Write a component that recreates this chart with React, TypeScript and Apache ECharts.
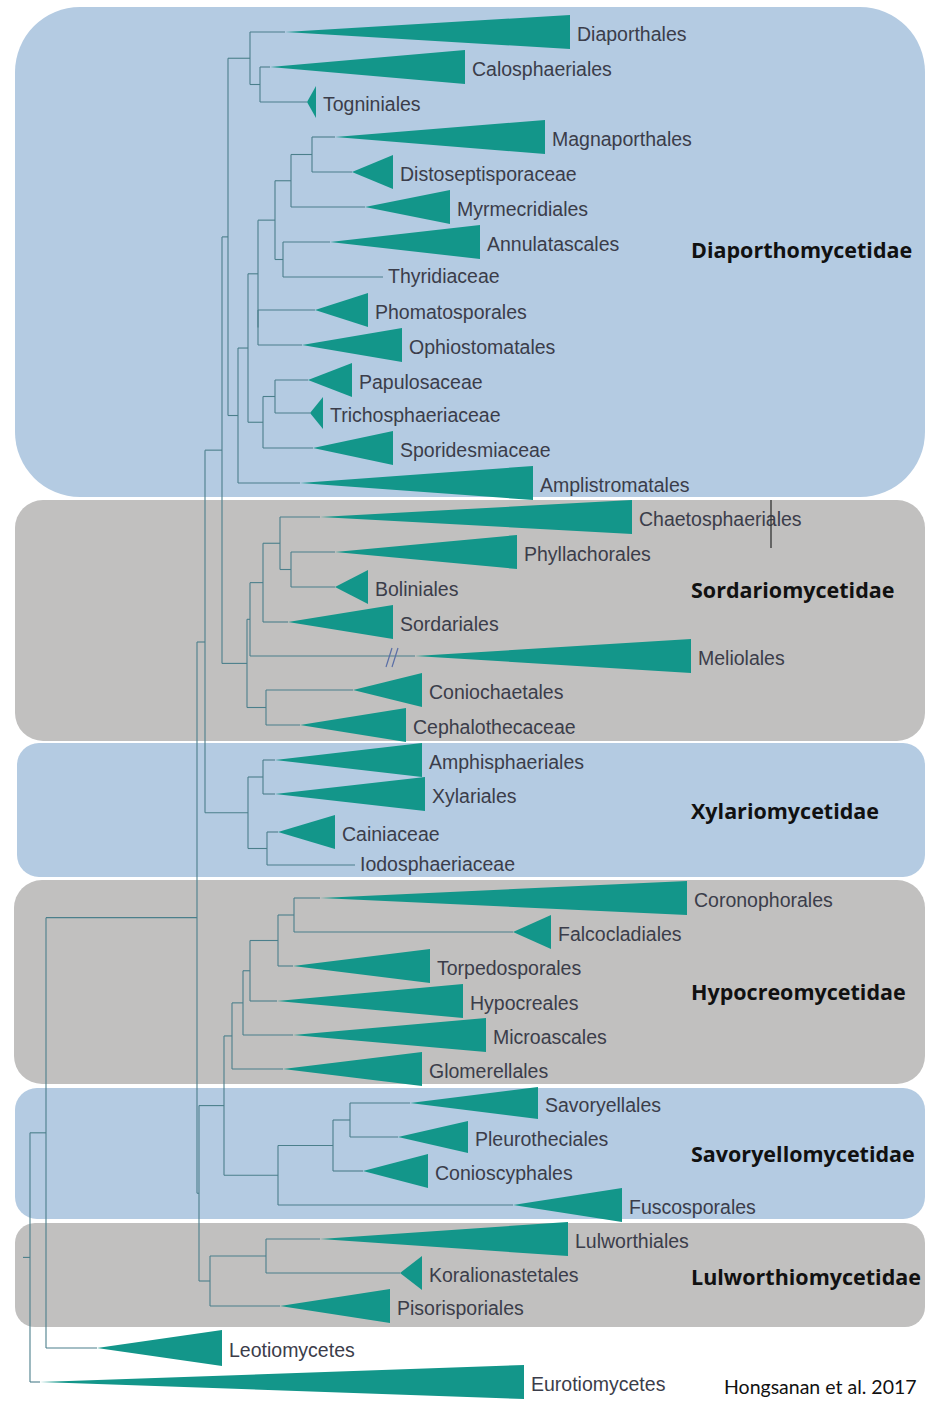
import React, { useEffect, useRef } from "react";
import * as echarts from "echarts";

// ---------- DATA ----------
const taxa = [
  "Diaporthales", "Calosphaeriales", "Togniniales", "Magnaporthales", "Distoseptisporaceae",
  "Myrmecridiales", "Annulatascales", "Thyridiaceae", "Phomatosporales", "Ophiostomatales",
  "Papulosaceae", "Trichosphaeriaceae", "Sporidesmiaceae", "Amplistromatales",
  "Chaetosphaeriales", "Phyllachorales", "Boliniales", "Sordariales", "Meliolales",
  "Coniochaetales", "Cephalothecaceae",
  "Amphisphaeriales", "Xylariales", "Cainiaceae", "Iodosphaeriaceae",
  "Coronophorales", "Falcocladiales", "Torpedosporales", "Hypocreales", "Microascales", "Glomerellales",
  "Savoryellales", "Pleurotheciales", "Conioscyphales", "Fuscosporales",
  "Lulworthiales", "Koralionastetales", "Pisorisporiales",
  "Leotiomycetes", "Eurotiomycetes",
];
// vertical position (row) of each collapsed clade
const taxonRow = [
  32, 67, 102, 137, 172, 207, 242, 277, 310, 345, 380, 413, 448, 483,
  517, 552, 587, 622, 656, 690, 725,
  760, 794, 832, 865,
  898, 932, 966, 1001, 1035, 1069,
  1103, 1137, 1171, 1205,
  1239, 1273, 1306,
  1348, 1382,
];
// depth where the collapsed clade begins (triangle apex)
const cladeStart = [
  285, 270, 307, 335, 352, 365, 330, 383, 315, 302, 308, 310, 313, 300,
  320, 335, 335, 288, 415, 353, 300,
  275, 275, 278, 355,
  320, 513, 293, 277, 293, 283,
  410, 398, 363, 513,
  320, 400, 280,
  97, 40,
];
// deepest tip inside the clade (triangle base)
const cladeEnd = [
  570, 465, 316, 545, 393, 450, 480, 383, 368, 402, 352, 323, 393, 533,
  632, 517, 368, 393, 691, 422, 406,
  422, 425, 335, 355,
  687, 551, 430, 463, 486, 422,
  538, 468, 428, 622,
  568, 422, 390,
  222, 524,
];
// half-width of the clade (number of sampled taxa)
const cladeSpread = [
  17, 17, 16, 17, 17, 17, 17, 0, 17, 17, 17, 16, 17, 17,
  17, 17, 17, 17, 17, 17, 17,
  17, 17, 17, 0,
  17, 17, 17, 17, 17, 17,
  16, 16, 17, 17,
  17, 17, 17,
  18, 17,
];

// internal nodes of the tree
const nodeNames = [
  "A", "AC", "B4", "B2", "B3", "B1", "PO", "B", "PT", "C", "D", "E", "F",
  "Sd", "Sc", "Sb", "Sa", "CC", "S", "G",
  "Xa", "Xb", "X", "H",
  "CF", "H1", "H2", "H3", "Hy",
  "SP", "SP2", "Sv", "M",
  "LK", "Lu", "L", "I", "J", "K",
];
const nodeDepth = [
  250, 260, 312, 291, 283, 275, 258, 258, 275, 263, 248, 238, 228,
  291, 280, 263, 250, 266, 247, 222,
  263, 267, 248, 205,
  294, 278, 250, 243, 232,
  350, 333, 278, 224,
  266, 210, 199, 197, 46, 30,
];
const nodeChildren = [
  ["Diaporthales", "AC"], ["Calosphaeriales", "Togniniales"],
  ["Magnaporthales", "Distoseptisporaceae"], ["B4", "Myrmecridiales"],
  ["Annulatascales", "Thyridiaceae"], ["B2", "B3"],
  ["Phomatosporales", "Ophiostomatales"], ["B1", "PO"],
  ["Papulosaceae", "Trichosphaeriaceae"], ["PT", "Sporidesmiaceae"],
  ["B", "C"], ["D", "Amplistromatales"], ["A", "E"],
  ["Phyllachorales", "Boliniales"], ["Chaetosphaeriales", "Sd"], ["Sc", "Sordariales"],
  ["Sb", "Meliolales"], ["Coniochaetales", "Cephalothecaceae"], ["Sa", "CC"], ["F", "S"],
  ["Amphisphaeriales", "Xylariales"], ["Cainiaceae", "Iodosphaeriaceae"], ["Xa", "Xb"], ["G", "X"],
  ["Coronophorales", "Falcocladiales"], ["CF", "Torpedosporales"], ["H1", "Hypocreales"],
  ["H2", "Microascales"], ["H3", "Glomerellales"],
  ["Savoryellales", "Pleurotheciales"], ["SP", "Conioscyphales"], ["SP2", "Fuscosporales"], ["Hy", "Sv"],
  ["Lulworthiales", "Koralionastetales"], ["LK", "Pisorisporiales"], ["M", "Lu"],
  ["H", "L"], ["I", "Leotiomycetes"], ["J", "Eurotiomycetes"],
];
const nodeRowOverride: Record<string, number> = { H: 642 };
const rootDepth = 23;

const subclasses = [
  "Diaporthomycetidae", "Sordariomycetidae", "Xylariomycetidae",
  "Hypocreomycetidae", "Savoryellomycetidae", "Lulworthiomycetidae",
];
const subclassTop = [7, 500, 743, 880, 1088, 1223];
const subclassBottom = [497, 741, 877, 1084, 1219, 1327];
const subclassLabelRow = [250, 590, 811, 992, 1154, 1277];

const breakMarks = [[392, 657]];
const cursorMarks = [[771, 500, 548]];
const citation = "Hongsanan et al. 2017";

// ---------- TREE LAYOUT ----------
function buildSegments(): number[][] {
  const rowOf: Record<string, number> = {};
  const startOf: Record<string, number> = {};
  taxa.forEach((t, i) => {
    rowOf[t] = taxonRow[i];
    startOf[t] = cladeStart[i];
  });
  const idx: Record<string, number> = {};
  nodeNames.forEach((n, i) => (idx[n] = i));
  const getRow = (n: string): number => {
    if (rowOf[n] !== undefined) return rowOf[n];
    const i = idx[n];
    const rs = nodeChildren[i].map(getRow);
    const r = nodeRowOverride[n] !== undefined ? nodeRowOverride[n] : (Math.min(...rs) + Math.max(...rs)) / 2;
    rowOf[n] = r;
    startOf[n] = nodeDepth[i];
    return r;
  };
  nodeNames.forEach(getRow);
  const segs: number[][] = [];
  nodeNames.forEach((n, i) => {
    const d = nodeDepth[i];
    const rs = nodeChildren[i].map((c) => rowOf[c]);
    segs.push([d, Math.min(...rs), d, Math.max(...rs)]);
    nodeChildren[i].forEach((c) => segs.push([d, rowOf[c], startOf[c], rowOf[c]]));
  });
  segs.push([rootDepth, rowOf["K"], nodeDepth[idx["K"]], rowOf["K"]]);
  return segs;
}

const BLUE = "#b4cbe2";
const GRAY = "#c1c0bf";
const TEAL = "#13968a";
const LINE = "#4b7f8b";
const LABEL = "#3b3d4a";
const BOX_RADIUS = [65, 28, 22, 28, 22, 20];

export default function App() {
  const ref = useRef<HTMLDivElement>(null);

  useEffect(() => {
    document.body.style.margin = "0";
    if (!ref.current) return;
    const chart = echarts.init(ref.current, undefined, { renderer: "svg" });
    const segs = buildSegments();

    const option: any = {
      animation: false,
      backgroundColor: "#ffffff",
      grid: { left: 0, right: 0, top: 0, bottom: 0, containLabel: false },
      xAxis: { type: "value", min: 0, max: 927, show: false },
      yAxis: { type: "value", min: 0, max: 1401, inverse: true, show: false },
      series: [
        {
          type: "custom",
          name: "subclass boxes",
          silent: true,
          clip: false,
          z: 1,
          data: subclasses.map((s, i) => [subclassTop[i], subclassBottom[i], subclassLabelRow[i], i]),
          renderItem: (params: any, api: any) => {
            const i = api.value(3);
            const p0 = api.coord([i === 3 ? 14 : i === 2 ? 17 : 15, api.value(0)]);
            const p1 = api.coord([925, api.value(1)]);
            const pl = api.coord([691, api.value(2)]);
            return {
              type: "group",
              children: [
                {
                  type: "rect",
                  shape: { x: p0[0], y: p0[1], width: p1[0] - p0[0], height: p1[1] - p0[1], r: BOX_RADIUS[i] },
                  style: { fill: i % 2 === 0 ? BLUE : GRAY },
                },
                {
                  type: "text",
                  style: {
                    text: subclasses[i],
                    x: pl[0],
                    y: pl[1] - 1,
                    fill: "#111111",
                    fontSize: 21.5,
                    fontWeight: "bold",
                    fontFamily: "'Open Sans', Lato, sans-serif",
                    align: "left",
                    verticalAlign: "middle",
                  },
                },
              ],
            };
          },
        },
        {
          type: "custom",
          name: "branches",
          silent: true,
          clip: false,
          z: 2,
          data: segs,
          renderItem: (params: any, api: any) => {
            const a = api.coord([api.value(0), api.value(1)]);
            const b = api.coord([api.value(2), api.value(3)]);
            return {
              type: "line",
              shape: { x1: a[0], y1: a[1], x2: b[0], y2: b[1] },
              style: { stroke: LINE, lineWidth: 1.1 },
            };
          },
        },
        {
          type: "custom",
          name: "clades",
          silent: true,
          clip: false,
          z: 3,
          data: taxa.map((t, i) => [cladeStart[i], taxonRow[i], cladeEnd[i], cladeSpread[i], i]),
          renderItem: (params: any, api: any) => {
            const start = api.value(0);
            const row = api.value(1);
            const end = api.value(2);
            const spread = api.value(3);
            const i = api.value(4);
            const apex = api.coord([start, row]);
            const top = api.coord([end, row - spread]);
            const bot = api.coord([end, row + spread]);
            const mid = api.coord([end, row]);
            const children: any[] = [];
            if (spread > 0) {
              children.push({
                type: "polygon",
                shape: { points: [apex, top, bot] },
                style: { fill: TEAL },
              });
            }
            children.push({
              type: "text",
              style: {
                text: taxa[i],
                x: mid[0] + (spread > 0 ? 7 : 5),
                y: mid[1] + (spread > 0 ? 2 : -1),
                fill: LABEL,
                fontSize: 19.5,
                fontFamily: "'Liberation Sans', Arial, sans-serif",
                align: "left",
                verticalAlign: "middle",
              },
            });
            return { type: "group", children };
          },
        },
        {
          type: "custom",
          name: "marks",
          silent: true,
          clip: false,
          z: 4,
          data: breakMarks,
          renderItem: (params: any, api: any) => {
            const c = api.coord([api.value(0), api.value(1)]);
            return {
              type: "group",
              children: [-3, 3].map((dx) => ({
                type: "line",
                shape: { x1: c[0] + dx + 3, y1: c[1] - 9, x2: c[0] + dx - 3, y2: c[1] + 10 },
                style: { stroke: "#5a6ea6", lineWidth: 1.2 },
              })),
            };
          },
        },
        {
          type: "custom",
          name: "cursor",
          silent: true,
          clip: false,
          z: 4,
          data: cursorMarks,
          renderItem: (params: any, api: any) => {
            const a = api.coord([api.value(0), api.value(1)]);
            const b = api.coord([api.value(0), api.value(2)]);
            return {
              type: "line",
              shape: { x1: a[0], y1: a[1], x2: b[0], y2: b[1] },
              style: { stroke: "#333333", lineWidth: 1.3 },
            };
          },
        },
      ],
      graphic: [
        {
          type: "text",
          left: 724,
          top: 1376,
          style: {
            text: citation,
            fill: "#111111",
            fontSize: 19.5,
            fontFamily: "Lato, 'Noto Sans', sans-serif",
          },
        },
      ],
    };
    chart.setOption(option);
    return () => chart.dispose();
  }, []);

  return <div ref={ref} style={{ width: 927, height: 1401 }} />;
}
